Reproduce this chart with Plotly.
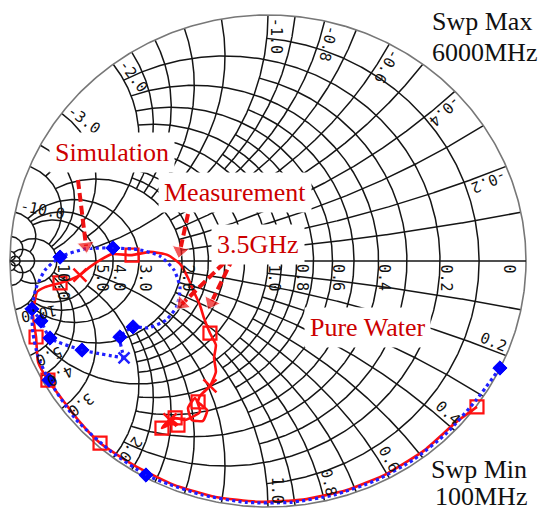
import numpy as np
import plotly.graph_objects as go

# Simulation (blue dotted); None splits the trace into two pieces
sim_re = [-0.899, -0.807, -0.696, -0.565, -0.416, -0.255, -0.086, 0.086, 0.255, 0.385, 0.473,
          0.606, 0.743, 0.849, 0.891, 0.911, 0.915, 0.899, 0.864, 0.806, 0.709, 0.601, 0.496,
          0.419, 0.364, 0.341, 0.353, 0.395, 0.465, 0.523, 0.574, 0.566, 0.558,
          None, 0.915, 0.880, 0.845, 0.721, 0.558]
sim_im = [0.435, 0.565, 0.696, 0.807, 0.893, 0.951, 0.981, 0.981, 0.951, 0.907, 0.870,
          0.776, 0.646, 0.484, 0.390, 0.293, 0.195, 0.110, 0.037, -0.016, -0.049, -0.053, -0.045,
          -0.020, 0.037, 0.110, 0.183, 0.240, 0.272, 0.268, 0.309, 0.362, 0.394,
          None, 0.195, 0.244, 0.313, 0.362, 0.394]
sim_mark_re = [-0.899, 0.473, 0.849, 0.915, 0.806, 0.601, 0.523, 0.574, 0.880, 0.845, 0.721]
sim_mark_im = [0.435, 0.870, 0.484, 0.195, -0.016, -0.053, 0.268, 0.309, 0.244, 0.313, 0.362]
sim_end_re = [0.558]
sim_end_im = [0.394]

# Measurement (red solid)
meas_re = [-0.810, -0.728, -0.603, -0.460, -0.303, -0.136, 0.034, 0.204, 0.367, 0.519, 0.651,
           0.728, 0.853, 0.891, 0.899, 0.911, 0.903, 0.895, 0.864, 0.806, 0.760, 0.729, 0.690,
           0.651, 0.605, 0.527, 0.457, 0.388, 0.341, 0.310, 0.287, 0.264, 0.248, 0.225, 0.202,
           0.209, 0.202, 0.225, 0.264, 0.271, 0.236, 0.252, 0.295, 0.310, 0.283, 0.264, 0.322,
           0.360, 0.388, 0.411, 0.380, 0.349]
meas_im = [0.593, 0.656, 0.772, 0.865, 0.932, 0.970, 0.979, 0.959, 0.909, 0.831, 0.740,
           0.656, 0.484, 0.411, 0.309, 0.220, 0.159, 0.125, 0.106, 0.089, 0.073, 0.057, 0.024,
           -0.004, -0.028, -0.024, -0.037, -0.024, 0.012, 0.069, 0.126, 0.179, 0.232, 0.293, 0.341,
           0.394, 0.451, 0.508, 0.549, 0.573, 0.606, 0.650, 0.646, 0.598, 0.557, 0.614, 0.646,
           0.638, 0.667, 0.679, 0.646, 0.667]
meas_sq_re = [-0.810, 0.651, 0.853, 0.899, 0.806, 0.527, 0.225, 0.271, 0.360, 0.411, 0.349]
meas_sq_im = [0.593, 0.740, 0.484, 0.309, 0.089, -0.024, 0.293, 0.573, 0.638, 0.679, 0.667]
meas_x_re = [0.729, 0.225, 0.380]
meas_x_im = [0.057, 0.508, 0.646]

# Smith grid values and how far each circle/arc is drawn
grid_values = [0.1, 0.2, 0.3, 0.4, 0.5, 0.6, 0.7, 0.8, 0.9, 1.0, 1.2, 1.4, 1.6, 1.8, 2.0,
               3.0, 4.0, 5.0, 10.0, 20.0, 50.0]
grid_limits = [1, 2, 1, 2, 1, 2, 1, 2, 1, 5, 2, 2, 2, 2, 5, 10, 10, 10, 20, 50, np.inf]
real_labels = ["0", "0.2", "0.4", "0.6", "0.8", "1.0", "2.0", "3.0", "4.0", "5.0", "10.0"]
real_values = [0, 0.2, 0.4, 0.6, 0.8, 1.0, 2.0, 3.0, 4.0, 5.0, 10.0]
upper_react_values = [0.2, 0.4, 0.6, 0.8, 1.0, 2.0, 3.0, 10.0]
upper_react_labels = ["-0.2", "-0.4", "-0.6", "-0.8", "-1.0", "-2.0", "-3.0", "-10.0"]
lower_react_values = [0.2, 0.4, 0.6, 0.8, 1.0, 2.0, 3.0, 4.0, 5.0, 10.0]
lower_react_labels = ["0.2", "0.4", "0.6", "0.8", "1.0", "2.0", "3.0", "4.0", "5.0", "10.0"]

# ---------------- geometry helpers -------------------------------------------------------------
SX, SY = 258.0, 246.0          # pixels per unit (chart is slightly stretched)
CX, CY = 268.0, 261.0          # chart centre in pixels
W, H = 541, 513


def disp(z):
    """Chart is drawn rotated by 180 degrees: display = -Gamma."""
    g = (z - 1) / (z + 1)
    return -g.real, -g.imag


def P(px, py):
    return (px - CX) / SX, (CY - py) / SY


def flip(vals):
    return [None if v is None else -v for v in vals]


gx, gy = [], []
for v, lim in zip(grid_values, grid_limits):
    t = np.linspace(-np.arctan(lim), np.arctan(lim), 500)
    u, w = disp(v + 1j * np.tan(t))
    gx += list(u) + [None]
    gy += list(w) + [None]
    t = np.linspace(0, np.arctan(lim), 400)
    for s in (1, -1):
        u, w = disp(np.tan(t) + 1j * s * v)
        gx += list(u) + [None]
        gy += list(w) + [None]

fig = go.Figure()
fig.add_trace(go.Scatter(x=gx, y=gy, mode="lines", line=dict(color="#151515", width=1.5),
                         hoverinfo="skip"))
th = np.linspace(0, 2 * np.pi, 600)
fig.add_trace(go.Scatter(x=np.cos(th), y=np.sin(th), mode="lines",
                         line=dict(color="#777777", width=1.6), hoverinfo="skip"))
fig.add_trace(go.Scatter(x=[-1, 1], y=[0, 0], mode="lines",
                         line=dict(color="#151515", width=1.5), hoverinfo="skip"))

# measurement
fig.add_trace(go.Scatter(x=flip(meas_re), y=flip(meas_im), mode="lines",
                         line=dict(color="#ff1010", width=2.6, shape="spline", smoothing=0.5)))
fig.add_trace(go.Scatter(x=flip(meas_sq_re), y=flip(meas_sq_im), mode="markers",
                         marker=dict(symbol="square-open", size=13, color="#ff1010",
                                     line=dict(width=2.2, color="#ff1010"))))
fig.add_trace(go.Scatter(x=flip(meas_x_re), y=flip(meas_x_im), mode="markers",
                         marker=dict(symbol="x-thin-open", size=13, color="#ff1010",
                                     line=dict(width=2.5, color="#ff1010"))))
# simulation
fig.add_trace(go.Scatter(x=flip(sim_re), y=flip(sim_im), mode="lines",
                         line=dict(color="#2020ff", width=3.2, dash="dot", shape="spline",
                                   smoothing=0.6)))
fig.add_trace(go.Scatter(x=flip(sim_mark_re), y=flip(sim_mark_im), mode="markers",
                         marker=dict(symbol="diamond-dot", size=11, color="#0000ff",
                                     line=dict(width=1, color="#0000ff"))))
fig.add_trace(go.Scatter(x=flip(sim_end_re), y=flip(sim_end_im), mode="markers",
                         marker=dict(symbol="x-thin-open", size=11, color="#2020ff",
                                     line=dict(width=2.5, color="#2020ff"))))

# dashed annotation arrows (pixel positions of start / end)
arrows = [((78, 180), (86, 246)), ((188, 214), (180, 251)),
          ((233, 258), (211, 303)), ((224, 263), (182, 304))]
for (p0, p1) in arrows:
    a, b = P(*p0), P(*p1)
    fig.add_trace(go.Scatter(x=[a[0], b[0]], y=[a[1], b[1]], mode="lines+markers",
                             line=dict(color="#ee1111", width=4, dash="9px,4px"),
                             marker=dict(symbol="triangle-up", size=[0, 15], angleref="previous",
                                         color="#ee1111")))

ann = []
MONO = "DejaVu Sans Mono, monospace"
FS = 15
CW = 0.6 * FS
# real axis labels (rotated 90 degrees)
for val, lab in zip(real_values, real_labels):
    u = (1 - val) / (1 + val)
    px = CX + u * SX + 6
    if val == 0:
        px = CX + u * SX - 17
    half = CW * len(lab) / 2
    x, y = P(px, CY + 3 + half)
    ann.append(dict(x=x, y=y, text=lab, showarrow=False, textangle=90,
                    font=dict(family=MONO, size=FS, color="#111")))

# reactance labels around the rim
for vals, labs, sgn in ((upper_react_values, upper_react_labels, 1),
                        (lower_react_values, lower_react_labels, -1)):
    for val, lab in zip(vals, labs):
        phi = np.degrees(2 * np.arctan(val))
        a = np.radians(sgn * (phi - 2.0))
        half = CW * len(lab) / 2
        rc = 1 - (4 + half) / SX
        tang = 180 - phi if sgn > 0 else phi
        ann.append(dict(x=rc * np.cos(a), y=rc * np.sin(a), text=lab, showarrow=False,
                        textangle=tang, font=dict(family=MONO, size=FS, color="#111")))

SERIF = "Liberation Serif, Times New Roman, serif"
red_txt = [("Simulation", 112, 152), ("Measurement", 235, 192), ("3.5GHz", 258, 244),
           ("Pure Water", 367, 327)]
for t, px, py in red_txt:
    x, y = P(px, py)
    ann.append(dict(x=x, y=y, text=t, showarrow=False, bgcolor="white", borderpad=5,
                    font=dict(family=SERIF, size=26, color="#cc0000")))
blk_txt = [("Swp Max", 482, 21), ("6000MHz", 484, 52), ("Swp Min", 479, 469),
           ("100MHz", 481, 496)]
for t, px, py in blk_txt:
    x, y = P(px, py)
    ann.append(dict(x=x, y=y, text=t, showarrow=False,
                    font=dict(family=SERIF, size=26, color="#111")))

fig.update_layout(
    width=W, height=H, margin=dict(l=0, r=0, t=0, b=0),
    paper_bgcolor="white", plot_bgcolor="white", showlegend=False,
    xaxis=dict(range=[-CX / SX, (W - CX) / SX], visible=False, fixedrange=True),
    yaxis=dict(range=[-(H - CY) / SY, CY / SY], visible=False, fixedrange=True),
    annotations=ann,
)
fig.write_html("out.html")
